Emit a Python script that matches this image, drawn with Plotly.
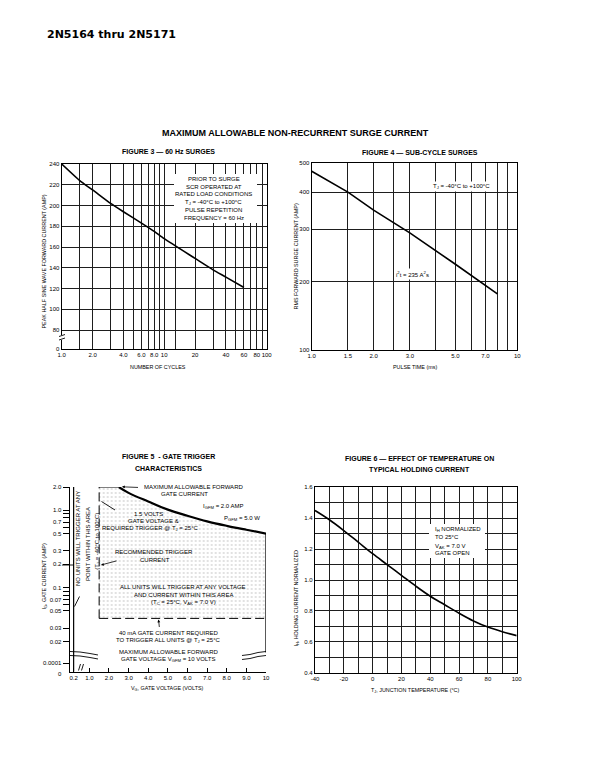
import plotly.graph_objects as go

PAGE_W, PAGE_H = 610, 783
OFF = 8  # browser body margin
W, H = PAGE_W - 2 * OFF, PAGE_H - 2 * OFF


def px(x):
    return (x - OFF) / W


def py(y):
    return 1 - (y - OFF) / H


SANS = "Liberation Sans, Arial, Helvetica, sans-serif"

# ---------------- Figure 3 : 60 Hz surges ----------------
fig3_cycles = [1, 1.5, 2, 3, 4, 6, 8, 10, 20, 30, 40, 60]
fig3_current = [240, 224, 215, 202, 194, 183, 175, 168, 149, 138, 131, 121]
fig3_xtick_vals = [1, 2, 4, 6, 8, 10, 20, 40, 60, 80, 100]
fig3_xtick_text = ["1.0", "2.0", "4.0", "6.0", "8.0", "10", "20", "40", "60", "80", "100"]
fig3_xgrid_minor = [1.5, 3, 5, 7, 9, 13, 30, 50, 70, 90]
fig3_ytick_vals = [61.7, 80, 100, 120, 140, 160, 180, 200, 220, 240]
fig3_ytick_text = ["0", "80", "100", "120", "140", "160", "180", "200", "220", "240"]

# ---------------- Figure 4 : sub-cycle surges ----------------
fig4_time = [1, 1.5, 2, 3, 5, 7, 8]
fig4_current = [470, 400, 348, 292, 229, 194, 182]
fig4_xtick_vals = [1, 1.5, 2, 3, 5, 7, 10]
fig4_xtick_text = ["1.0", "1.5", "2.0", "3.0", "5.0", "7.0", "10"]
fig4_xgrid_minor = [2.5, 4, 6, 8, 9]
fig4_ytick_vals = [118, 200, 300, 400, 500]
fig4_ytick_text = ["100", "200", "300", "400", "500"]

# ---------------- Figure 5 : gate trigger characteristics ----------------
fig5_vg = [2.5, 3, 4, 5, 6, 7, 8, 9, 10]
fig5_ig_max = [2.0, 1.68, 1.3, 1.02, 0.85, 0.72, 0.63, 0.56, 0.5]
fig5_vg_trigger = 1.5
fig5_ig_trigger = 0.04
fig5_ig_limit = 2.0
fig5_vg_strip = 0.2
fig5_ig_break = 0.0145
fig5_ybottom = 0.00818
fig5_xtick_vals = [0.2, 1, 2, 3, 4, 5, 6, 7, 8, 9, 10]
fig5_xtick_text = ["0.2", "1.0", "2.0", "3.0", "4.0", "5.0", "6.0", "7.0", "8.0", "9.0", "10"]
fig5_ytick_vals = [2.0, 1.0, 0.7, 0.5, 0.3, 0.2, 0.1, 0.07, 0.05, 0.03, 0.02, 0.0106]
fig5_ytick_text = ["2.0", "1.0", "0.7", "0.5", "0.3", "0.2", "0.1", "0.07", "0.05", "0.03", "0.02", "0.0001"]
fig5_yminor = [0.9, 0.8, 0.6, 0.09, 0.08, 0.06]

# ---------------- Figure 6 : holding current vs temperature ----------------
fig6_temp = [-40, -30, -20, -10, 0, 10, 20, 30, 40, 50, 60, 70, 80, 90, 100]
fig6_ih = [1.45, 1.39, 1.32, 1.245, 1.17, 1.10, 1.03, 0.96, 0.895, 0.84, 0.785, 0.735, 0.695, 0.665, 0.64]
fig6_xtick_vals = [-40, -20, 0, 20, 40, 60, 80, 100]
fig6_xtick_text = ["-40", "-20", "0", "20", "40", "60", "80", "100"]
fig6_xgrid_minor = [-30, -10, 10, 30, 50, 70, 90]
fig6_ytick_vals = [0.4, 0.6, 0.8, 1.0, 1.2, 1.4, 1.6]
fig6_ytick_text = ["0.4", "0.6", "0.8", "1.0", "1.2", "1.4", "1.6"]
fig6_ygrid_minor = [0.5, 0.7, 0.9, 1.1, 1.3, 1.5]

fig = go.Figure()
BL = dict(color="black", width=1.6)

fig.add_trace(go.Scatter(x=fig3_cycles, y=fig3_current, mode="lines",
                         line=dict(color="black", width=1.6, shape="spline", smoothing=0.6),
                         xaxis="x", yaxis="y", hoverinfo="skip"))
fig.add_trace(go.Scatter(x=fig4_time, y=fig4_current, mode="lines", line=BL, xaxis="x2", yaxis="y2", hoverinfo="skip"))

# stippled trigger area
poly_x = [fig5_vg_trigger, fig5_vg_trigger] + fig5_vg + [fig5_vg[-1], fig5_vg_trigger]
poly_y = [fig5_ig_trigger, fig5_ig_limit] + fig5_ig_max + [fig5_ig_trigger, fig5_ig_trigger]
fig.add_trace(go.Scatter(x=poly_x, y=poly_y, mode="lines", fill="toself", line=dict(width=0, color="rgba(0,0,0,0)"),
                         fillcolor="rgba(0,0,0,0)",
                         fillpattern=dict(shape=".", size=4, solidity=0.16, fgcolor="#a8a8a8", fillmode="overlay"),
                         xaxis="x3", yaxis="y3", hoverinfo="skip"))
fig.add_trace(go.Scatter(x=[fig5_vg_trigger, fig5_vg[0]], y=[fig5_ig_limit, fig5_ig_limit], mode="lines",
                         line=dict(color="black", width=1), xaxis="x3", yaxis="y3", hoverinfo="skip"))
fig.add_trace(go.Scatter(x=fig5_vg, y=fig5_ig_max, mode="lines", line=dict(color="black", width=2.2, shape="spline"),
                         xaxis="x3", yaxis="y3", hoverinfo="skip"))
fig.add_trace(go.Scatter(x=[fig5_vg_trigger, fig5_vg_trigger], y=[fig5_ig_trigger, fig5_ig_limit], mode="lines",
                         line=dict(color="black", width=1, dash="9px,4px"), xaxis="x3", yaxis="y3", hoverinfo="skip"))
fig.add_trace(go.Scatter(x=[fig5_vg_trigger, fig5_vg[-1]], y=[fig5_ig_trigger, fig5_ig_trigger], mode="lines",
                         line=dict(color="black", width=1, dash="9px,4px"), xaxis="x3", yaxis="y3", hoverinfo="skip"))
fig.add_trace(go.Scatter(x=[fig5_vg_strip, fig5_vg_strip], y=[fig5_ybottom, fig5_ig_limit], mode="lines",
                         line=dict(color="black", width=1.2), xaxis="x3", yaxis="y3", hoverinfo="skip"))
fig.add_trace(go.Scatter(x=[fig5_vg[-1], fig5_vg[-1]], y=[fig5_ig_max[-1], fig5_ig_break], mode="lines",
                         line=dict(color="black", width=1.3), xaxis="x3", yaxis="y3", hoverinfo="skip"))

fig.add_trace(go.Scatter(x=fig6_temp, y=fig6_ih, mode="lines", line=dict(color="black", width=1.6, shape="spline"),
                         xaxis="x4", yaxis="y4", hoverinfo="skip"))

TF = dict(size=6, family=SANS, color="black")
GRID = dict(showgrid=True, gridcolor="#1e1e1e", gridwidth=0.9)


def axis(minor_vals=None, **kw):
    base = dict(showline=True, linecolor="black", linewidth=1.3, mirror=True, ticks="", tickfont=TF,
                showgrid=True, gridcolor="#1e1e1e", gridwidth=0.9, zeroline=False, fixedrange=True,
                tickmode="array", tickangle=0, automargin=False)
    if minor_vals is not None:
        base["minor"] = dict(tickmode="array", tickvals=minor_vals, ticks="", **GRID)
    base.update(kw)
    return base


fig.update_layout(
    width=W, height=H, autosize=False, margin=dict(l=0, r=0, t=0, b=0, pad=0),
    paper_bgcolor="white", plot_bgcolor="white", showlegend=False,
    xaxis=axis(fig3_xgrid_minor, type="log", range=[0, 2], domain=[px(61.7), px(266.7)], anchor="y",
               tickvals=fig3_xtick_vals, ticktext=fig3_xtick_text),
    yaxis=axis(range=[61.7, 240], domain=[py(349), py(164)], anchor="x",
               tickvals=fig3_ytick_vals, ticktext=fig3_ytick_text),
    xaxis2=axis(fig4_xgrid_minor, type="log", range=[0, 1], domain=[px(311.7), px(517.3)], anchor="y2",
                tickvals=fig4_xtick_vals, ticktext=fig4_xtick_text),
    yaxis2=axis(type="log", range=[2.0719, 2.69897], domain=[py(350), py(163.3)], anchor="x2",
                tickvals=fig4_ytick_vals, ticktext=fig4_ytick_text),
    xaxis3=axis(range=[0, 10], domain=[px(69.7), px(266)], anchor="y3", mirror=False, showgrid=False,
                ticks="inside", ticklen=4, tickwidth=1, tickcolor="black",
                tickvals=fig5_xtick_vals, ticktext=fig5_xtick_text),
    yaxis3=axis(type="log", range=[-2.0872, 0.30103], domain=[py(671.7), py(487)], anchor="x3", mirror=False,
                showgrid=False, ticks="outside", ticklen=6, tickwidth=1, tickcolor="black",
                tickvals=fig5_ytick_vals, ticktext=fig5_ytick_text,
                minor=dict(tickmode="array", tickvals=fig5_yminor, ticks="outside", ticklen=6,
                           tickwidth=1, tickcolor="black", showgrid=False)),
    xaxis4=axis(fig6_xgrid_minor, range=[-40, 100], domain=[px(315), px(516.7)], anchor="y4",
                tickvals=fig6_xtick_vals, ticktext=fig6_xtick_text),
    yaxis4=axis(fig6_ygrid_minor, range=[0.4, 1.6], domain=[py(672.7), py(487.3)], anchor="x4",
                tickvals=fig6_ytick_vals, ticktext=fig6_ytick_text),
)

ann = []


def text(x, y, s, size=6, bold=False, angle=0, xanchor="center", family=SANS, bg=None):
    d = dict(x=px(x), y=py(y), xref="paper", yref="paper", text=("<b>%s</b>" % s) if bold else s,
             showarrow=False, xanchor=xanchor, yanchor="middle", textangle=angle,
             font=dict(size=size, family=family, color="black"))
    if bg:
        d["bgcolor"] = bg
    ann.append(d)


def arrow(x, y, ax, ay):
    ann.append(dict(x=px(x), y=py(y), xref="paper", yref="paper", ax=ax - x, ay=ay - y, text="",
                    showarrow=True, arrowhead=2, arrowsize=0.7, arrowwidth=0.8, arrowcolor="black"))


# titles
text(45, 35, "2N5164 thru 2N5171", size=11, bold=True, xanchor="left", family="DejaVu Sans, sans-serif")
text(295, 133, "MAXIMUM ALLOWABLE NON-RECURRENT SURGE CURRENT", size=9, bold=True)
text(168, 151.5, "FIGURE 3 — 60 Hz SURGES", size=7, bold=True)
text(420, 152.5, "FIGURE 4 — SUB-CYCLE SURGES", size=7, bold=True)
text(168, 456.5, "FIGURE 5  - GATE TRIGGER", size=7, bold=True)
text(168, 468.3, "CHARACTERISTICS", size=7, bold=True)
text(420, 458.3, "FIGURE 6 — EFFECT OF TEMPERATURE ON", size=7, bold=True)
text(420, 469.5, "TYPICAL HOLDING CURRENT", size=7, bold=True)

# axis titles
text(43.5, 262, "PEAK HALF SINE WAVE FORWARD CURRENT (AMP)", size=5.4, angle=-90)
text(158, 366.7, "NUMBER OF CYCLES", size=5.4)
text(295.5, 257, "RMS FORWARD SURGE CURRENT (AMP)", size=5.4, angle=-90)
text(415, 367.3, "PULSE TIME (ms)", size=5.4)
text(43.5, 577, "I<sub>G</sub>, GATE CURRENT (AMP)", size=5.4, angle=-90)
text(167.5, 688.5, "V<sub>G</sub>, GATE VOLTAGE (VOLTS)", size=5.4)
text(295.5, 599, "I<sub>H</sub>, HOLDING CURRENT NORMALIZED", size=5.4, angle=-90)
text(415, 690.5, "T<sub>J</sub>, JUNCTION TEMPERATURE (°C)", size=5.4)

# figure 3 note
for yy, s in zip([179, 186.7, 194.3, 202.3, 210, 217.7],
                 ["PRIOR TO SURGE", "SCR OPERATED AT", "RATED LOAD CONDITIONS",
                  "T<sub>J</sub> = -40°C to +100°C", "PULSE REPETITION", "FREQUENCY = 60 Hz"]):
    text(214, yy, s, size=6)

# figure 4 notes
text(461.7, 186.7, "T<sub>J</sub> = -40°C to +100°C", size=6, bg="white")
text(413, 274, "i<sup>2</sup>t = 235 A<sup>2</sup>s", size=6, bg="white")

# figure 5 notes
text(78, 539, "NO UNITS WILL TRIGGER AT ANY", size=6, angle=-90)
text(88, 544, "POINT WITHIN THIS AREA", size=6, angle=-90)
text(96.8, 541, "(T<sub>J</sub> = -40°C to 100°C)", size=6, angle=-90)
text(141.7, 487, "MAXIMUM ALLOWABLE FORWARD", size=6, xanchor="left")
text(185, 494.3, "GATE CURRENT", size=6)
text(223, 506.7, "I<sub>GFM</sub> = 2.0 AMP", size=6)
text(241.7, 518.5, "P<sub>GFM</sub> = 5.0 W", size=6)
text(148, 514, "1.5 VOLTS", size=6)
text(153, 521.3, "GATE VOLTAGE &", size=6)
text(150.5, 528.6, "REQUIRED TRIGGER @ T<sub>J</sub> = 25°C", size=6)
text(153.5, 552.3, "RECOMMENDED TRIGGER", size=6)
text(155, 559.6, "CURRENT", size=6)
text(183, 587.3, "ALL UNITS WILL TRIGGER AT ANY VOLTAGE", size=6)
text(183, 594.7, "AND CURRENT WITHIN THIS AREA", size=6)
text(183, 602.3, "(T<sub>C</sub> = 25°C, V<sub>AK</sub> = 7.0 V)", size=6)
text(168, 633.3, "40 mA GATE CURRENT REQUIRED", size=6)
text(168, 640.3, "TO TRIGGER ALL UNITS @ T<sub>J</sub> = 25°C", size=6)
text(168, 652.3, "MAXIMUM ALLOWABLE FORWARD", size=6)
text(168, 659.5, "GATE VOLTAGE V<sub>GFM</sub> = 10 VOLTS", size=6)
text(64.3, 673.5, "0", size=6, xanchor="right")

arrow(122, 486.8, 139.5, 487.5)
arrow(101, 565, 118, 560.5)
arrow(158.5, 619.5, 159.5, 628.5)

# figure 6 note
for yy, s in zip([529.3, 536.7, 546, 553.3],
                 ["I<sub>H</sub> NORMALIZED", "TO 25°C", "V<sub>AK</sub> = 7.0 V", "GATE OPEN"]):
    text(433, yy, s, size=6, xanchor="left")

fig.update_layout(annotations=ann)

shapes = []


def line(x0, y0, x1, y1, w=0.9):
    shapes.append(dict(type="line", xref="paper", yref="paper", x0=px(x0), y0=py(y0), x1=px(x1), y1=py(y1),
                       line=dict(color="black", width=w), layer="above"))


def rect(x0, y0, x1, y1):
    shapes.append(dict(type="rect", xref="paper", yref="paper", x0=px(x0), y0=py(y0), x1=px(x1), y1=py(y1),
                       fillcolor="white", line=dict(width=0), layer="above"))


def path(pts, w=0.9):
    d = "M " + " L ".join("%f,%f" % (px(a), py(b)) for a, b in pts)
    shapes.append(dict(type="path", xref="paper", yref="paper", path=d, line=dict(color="black", width=w), layer="above"))


rect(174, 174, 257, 223)
rect(429, 524, 485, 558)
# fig3 axis break
rect(60.5, 335, 63, 340)
line(59, 336.5, 65, 334.5)
line(59, 340, 65, 338)
# fig5 axis breaks
path([(70, 651.5), (80, 652), (90, 653.5), (98, 655)])
path([(70, 655.5), (80, 656), (90, 657.5), (98, 659)])
path([(242, 655.5), (250, 654.5), (258, 652.5), (266, 651.5)])
path([(242, 659.5), (250, 658.5), (258, 656.5), (266, 655.5)])
line(78.5, 670.5, 80.5, 664)
line(81.5, 670.5, 83.5, 664)
# fig5 leader lines
line(101.5, 501.5, 115, 510)
line(79.5, 596.5, 74.5, 606.5)
line(62, 565, 73.6, 565)

fig.update_layout(shapes=shapes)

fig.write_html("out.html")
